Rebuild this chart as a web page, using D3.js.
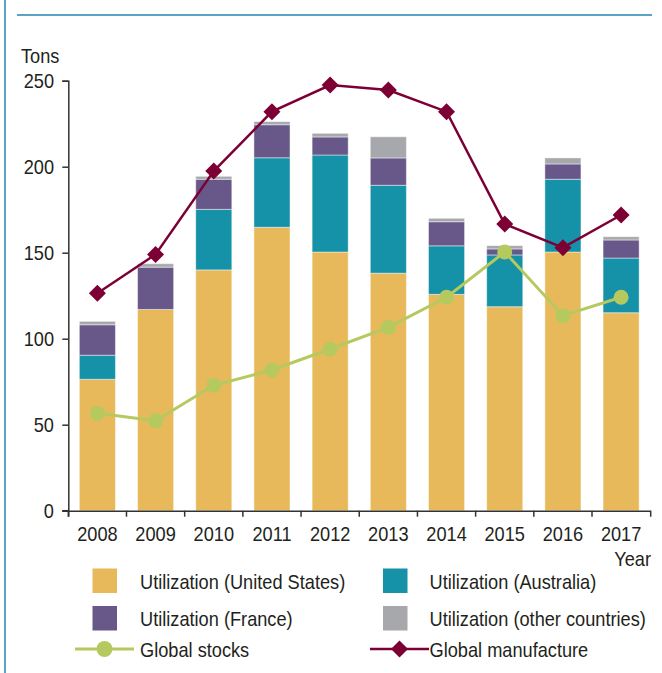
<!DOCTYPE html>
<html>
<head>
<meta charset="utf-8">
<script src="https://cdn.jsdelivr.net/npm/d3@7"></script>
<style>
  html, body { margin: 0; padding: 0; background: #fff; }
  svg text { font-family: "Liberation Sans", Arial, sans-serif; fill: #231f20; }
</style>
</head>
<body>
<svg id="chart" width="662" height="673"></svg>
<script>
const years = ["2008","2009","2010","2011","2012","2013","2014","2015","2016","2017"];
const usUse = [76.4, 117, 140, 164.8, 150.4, 138.1, 125.8, 118.6, 150.4, 115.1];
const australiaUse = [14, 0, 35.2, 40.4, 56.4, 51.1, 28.2, 30.1, 42.3, 31.8];
const franceUse = [17.7, 24.6, 17.5, 19.2, 10.5, 15.9, 14, 3.5, 8.9, 10.5];
const otherUse = [2, 2, 1.7, 1.8, 2.1, 12.3, 2, 1.9, 3.5, 1.9];
const globalStocks = [56.6, 52.3, 72.9, 81.8, 94, 106.6, 124.1, 150.4, 113.4, 124.1];
const globalManufacture = [126.4, 149, 197.5, 232, 247.5, 244.6, 232, 166.7, 152.9, 171.9];
const yTicks = [0, 50, 100, 150, 200, 250];
const seriesNames = ["Utilization (United States)", "Utilization (Australia)", "Utilization (France)", "Utilization (other countries)"];
const lineNames = ["Global stocks", "Global manufacture"];

const colors = {
  us: "#E8B95B", aus: "#1591A8", fra: "#685889", oth: "#A7A8AC",
  stocks: "#B5C95F", manuf: "#7D0034", frame: "#5BA3C3", axis: "#333"
};

const svg = d3.select("#chart");
const fontSize = 20, sx = 0.91;

function addText(parent, tx, ty, str, anchor) {
  const g = parent.append("g").attr("transform", `translate(${tx},${ty}) scale(${sx},1)`);
  g.append("text").attr("x", 0).attr("y", 0).attr("font-size", fontSize)
    .attr("text-anchor", anchor || "start").text(str);
  return g;
}

// frame
svg.append("line").attr("x1", 5).attr("x2", 5).attr("y1", 0).attr("y2", 673)
  .attr("stroke", colors.frame).attr("stroke-width", 2);
svg.append("line").attr("x1", 17).attr("x2", 652).attr("y1", 15).attr("y2", 15)
  .attr("stroke", colors.frame).attr("stroke-width", 2);

const x = d3.scaleBand().domain(years).range([68.3, 650.2]).paddingInner(0.38).paddingOuter(0.19);
const y = d3.scaleLinear().domain([0, 250]).range([510.7, 80.7]);

const table = years.map((yr, i) => ({ year: yr, us: usUse[i], aus: australiaUse[i], fra: franceUse[i], oth: otherUse[i] }));
const keys = ["us", "aus", "fra", "oth"];
const stacked = d3.stack().keys(keys)(table);

svg.append("g").selectAll("g").data(stacked).join("g")
  .attr("fill", d => colors[d.key])
  .selectAll("rect").data(d => d).join("rect")
  .attr("x", d => x(d.data.year))
  .attr("width", x.bandwidth())
  .attr("y", d => y(d[1]))
  .attr("height", d => Math.max(0, y(d[0]) - y(d[1])))
  .attr("stroke", "#fff").attr("stroke-opacity", 0.45).attr("stroke-width", 1);

// y axis
const yAxis = d3.axisLeft(y).tickValues(yTicks).tickSize(6).tickFormat(() => "");
const gy = svg.append("g").attr("transform", "translate(68.3,0)").call(yAxis);
gy.selectAll("path, line").attr("stroke", colors.axis).attr("stroke-width", 1.5);
yTicks.forEach(t => addText(svg, 54, y(t) + 7.2, String(t), "end"));

// x axis
const xAxis = d3.axisBottom(x).tickSize(0).tickPadding(0).tickFormat(() => "");
const gx = svg.append("g").attr("transform", "translate(0,510.7)").call(xAxis.tickSizeOuter(6));
gx.selectAll("path, line").attr("stroke", colors.axis).attr("stroke-width", 1.5);
const bounds = d3.range(years.length).map(i => x(years[i]) - x.step() * x.paddingInner() / 2);
gx.selectAll("line.bt").data(bounds).join("line").attr("class", "bt")
  .attr("x1", d => d).attr("x2", d => d).attr("y1", 0).attr("y2", 6)
  .attr("stroke", colors.axis).attr("stroke-width", 1.5);
svg.append("line").attr("x1", 62.3).attr("x2", 68.3).attr("y1", 510.7).attr("y2", 510.7)
  .attr("stroke", colors.axis).attr("stroke-width", 1.5);

years.forEach(yr => addText(svg, x(yr) + x.bandwidth() / 2, 541, yr, "middle"));

addText(svg, 21, 62.5, "Tons");
addText(svg, 651, 566, "Year", "end");

// lines
const cx = (d, i) => x(years[i]) + x.bandwidth() / 2;
const line = d3.line().x(cx).y(d => y(d));

svg.append("path").datum(globalStocks).attr("d", line)
  .attr("fill", "none").attr("stroke", colors.stocks).attr("stroke-width", 3);
svg.append("g").selectAll("circle").data(globalStocks).join("circle")
  .attr("cx", cx).attr("cy", d => y(d)).attr("r", 7.5).attr("fill", colors.stocks);

const diamond = (s) => `M0,${-s}L${s},0L0,${s}L${-s},0Z`;
svg.append("path").datum(globalManufacture).attr("d", line)
  .attr("fill", "none").attr("stroke", colors.manuf).attr("stroke-width", 2.5);
svg.append("g").selectAll("path").data(globalManufacture).join("path")
  .attr("transform", (d, i) => `translate(${cx(d, i)},${y(d)})`)
  .attr("d", diamond(8.5)).attr("fill", colors.manuf);

// legend
const legendItems = [
  { name: seriesNames[0], color: colors.us, sx: 92.5, tx: 140, sy: 568.5, ty: 588.5 },
  { name: seriesNames[1], color: colors.aus, sx: 383, tx: 429.5, sy: 568.5, ty: 588.5 },
  { name: seriesNames[2], color: colors.fra, sx: 92.5, tx: 140, sy: 606, ty: 626 },
  { name: seriesNames[3], color: colors.oth, sx: 383, tx: 429.5, sy: 606, ty: 626 }
];
const lg = svg.append("g");
legendItems.forEach(it => {
  lg.append("rect").attr("x", it.sx).attr("y", it.sy).attr("width", 24.5).attr("height", 24.5).attr("fill", it.color);
  addText(lg, it.tx, it.ty, it.name);
});
lg.append("line").attr("x1", 75).attr("x2", 134).attr("y1", 649).attr("y2", 649).attr("stroke", colors.stocks).attr("stroke-width", 3);
lg.append("circle").attr("cx", 104.5).attr("cy", 649).attr("r", 8).attr("fill", colors.stocks);
addText(lg, 140, 657, lineNames[0]);
lg.append("line").attr("x1", 370).attr("x2", 429).attr("y1", 649).attr("y2", 649).attr("stroke", colors.manuf).attr("stroke-width", 2.5);
lg.append("path").attr("transform", "translate(399.5,649)").attr("d", diamond(8.5)).attr("fill", colors.manuf);
addText(lg, 429.5, 657, lineNames[1]);
</script>
</body>
</html>
